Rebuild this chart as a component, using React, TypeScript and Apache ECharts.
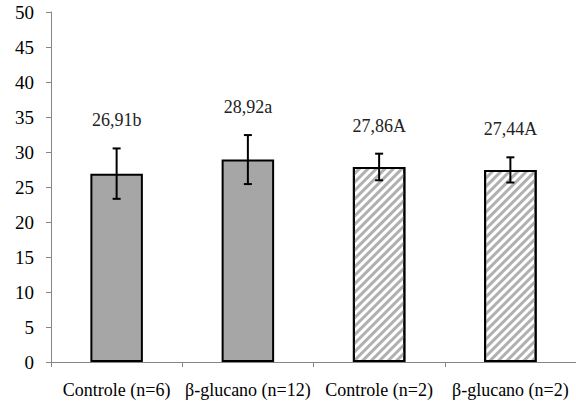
import React, { useEffect, useRef } from "react";
import * as echarts from "echarts";

const categories = ["Controle (n=6)", "β-glucano (n=12)", "Controle (n=2)", "β-glucano (n=2)"];
const means = [26.91, 28.92, 27.86, 27.44];
const errors = [3.6, 3.5, 1.9, 1.8];
const annotations = ["26,91b", "28,92a", "27,86A", "27,44A"];
const hatched = [false, false, true, true];
const yTicks = { min: 0, max: 50, interval: 5 };

const FONT = "Liberation Serif, Times New Roman, serif";

export default function App() {
  const ref = useRef<HTMLDivElement>(null);
  useEffect(() => {
    if (!ref.current) return;
    const chart = echarts.init(ref.current, undefined, { renderer: "svg" });
    const barData = means.map((v, i) =>
      hatched[i]
        ? {
            value: v,
            itemStyle: {
              color: "#ffffff",
              borderColor: "#000",
              borderWidth: 2,
              decal: {
                symbol: "rect",
                symbolSize: 1,
                dashArrayX: [1, 0],
                dashArrayY: [2.5, 2.5],
                rotation: -Math.PI / 4,
                color: "#b0b0b0",
                backgroundColor: "#ffffff",
              },
            },
          }
        : {
            value: v,
            itemStyle: { color: "#a6a6a6", borderColor: "#000", borderWidth: 2 },
          }
    );
    const errData = means.map((v, i) => [i, v, errors[i]]);
    chart.setOption({
      animation: false,
      backgroundColor: "#fff",
      textStyle: { fontFamily: FONT },
      grid: { left: 51, right: 0, top: 12, bottom: 45, containLabel: false },
      xAxis: {
        type: "category",
        data: categories,
        axisLine: { lineStyle: { color: "#868686", width: 1 } },
        axisTick: { show: true, alignWithLabel: false, length: 5, lineStyle: { color: "#868686" } },
        axisLabel: { color: "#000", fontFamily: FONT, fontSize: 18, margin: 19, interval: 0 },
      },
      yAxis: {
        type: "value",
        min: yTicks.min,
        max: yTicks.max,
        interval: yTicks.interval,
        splitLine: { show: false },
        axisLine: { show: true, lineStyle: { color: "#868686", width: 1 } },
        axisTick: { show: true, length: 5, lineStyle: { color: "#868686" } },
        axisLabel: { color: "#000", fontFamily: FONT, fontSize: 19, margin: 17 },
      },
      series: [
        {
          type: "bar",
          data: barData,
          barWidth: "40%",
          z: 2,
        },
        {
          type: "custom",
          data: errData,
          z: 5,
          renderItem: (params: any, api: any) => {
            const x = api.value(0);
            const v = api.value(1);
            const e = api.value(2);
            const top = api.coord([x, v + e]);
            const bot = api.coord([x, v - e]);
            const cap = 4;
            const st = { stroke: "#000", lineWidth: 2 };
            return {
              type: "group",
              children: [
                { type: "line", shape: { x1: top[0], y1: top[1], x2: bot[0], y2: bot[1] }, style: st },
                { type: "line", shape: { x1: top[0] - cap, y1: top[1], x2: top[0] + cap, y2: top[1] }, style: st },
                { type: "line", shape: { x1: bot[0] - cap, y1: bot[1], x2: bot[0] + cap, y2: bot[1] }, style: st },
                {
                  type: "text",
                  style: {
                    text: annotations[params.dataIndex],
                    x: top[0],
                    y: top[1] - 28,
                    align: "center",
                    verticalAlign: "middle",
                    fontFamily: FONT,
                    fontSize: 18,
                    fill: "#222",
                  },
                },
              ],
            };
          },
        },
      ],
    });
    return () => chart.dispose();
  }, []);
  return (
    <div
      ref={ref}
      style={{ position: "fixed", left: 0, top: 0, width: 576, height: 407, background: "#fff" }}
    />
  );
}
